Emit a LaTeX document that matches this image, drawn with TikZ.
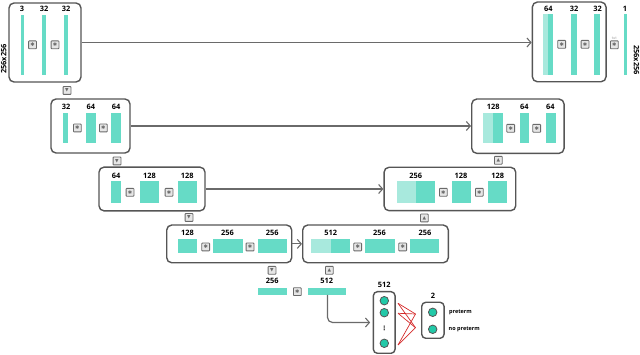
\documentclass[tikz,border=0pt]{standalone}
\usepackage{fontspec}
\setmainfont{Open Sans}
\newfontfamily\symf{DejaVu Sans}
\usetikzlibrary{arrows.meta,calc}
\definecolor{tealc}{HTML}{66DBC6}
\definecolor{ltealc}{HTML}{A8E9DD}
\definecolor{boxc}{HTML}{555555}
\definecolor{linec}{HTML}{6A6A6A}
\definecolor{iconc}{HTML}{6A6A6A}
\definecolor{iconf}{HTML}{E6E6E6}
\definecolor{neurc}{HTML}{22C9A8}
\definecolor{redc}{HTML}{D42A2A}
\tikzset{
  blockbox/.style={draw=boxc, line width=1.4pt, rounded corners=5pt, inner sep=0pt, fill=white},
  lab/.style={font=\fontsize{7.4}{8}\selectfont\bfseries, inner sep=0pt, text=black},
  smalllab/.style={font=\fontsize{5.5}{6}\selectfont\bfseries, inner sep=0pt, text=black, anchor=west},
  iconbox/.style={draw=iconc, fill=iconf, line width=0.8pt, minimum size=7.8pt, inner sep=0pt, rounded corners=0.6pt, text=iconc},
  conv/.style={iconbox, font=\symf\fontsize{5.2}{5.2}\selectfont},
  tri/.style={iconbox, font=\symf\fontsize{4.6}{4.6}\selectfont},
  conn/.style={draw=linec, line width=1.2pt, -{Straight Barb[length=4pt,width=9pt,line width=1.1pt]}},
  neuron/.style={circle, draw=boxc, fill=neurc, line width=0.8pt, minimum size=8.5pt, inner sep=0pt},
  redl/.style={draw=redc, line width=0.7pt},
}
\begin{document}
\begin{tikzpicture}[x=1pt,y=-1pt]
\useasboundingbox (0,0) rectangle (640,355);
% ---------- blocks ----------
\node[blockbox, minimum width=72pt, minimum height=79pt] (b1) at (45,42.5) {};
\node[blockbox, minimum width=79pt, minimum height=54pt] (b2) at (90.5,126) {};
\node[blockbox, minimum width=106pt, minimum height=43.7pt] (b3) at (152,189) {};
\node[blockbox, minimum width=125pt, minimum height=37.7pt] (b4) at (229.2,243.9) {};
\node[blockbox, minimum width=145.6pt, minimum height=37.7pt] (b5) at (375.5,243.9) {};
\node[blockbox, minimum width=131.7pt, minimum height=43.4pt] (r3) at (449.9,189) {};
\node[blockbox, minimum width=92.3pt, minimum height=54.3pt] (r2) at (517.9,126.2) {};
\node[blockbox, minimum width=73.7pt, minimum height=79.7pt] (r1) at (569.2,41.9) {};
\node[blockbox, rounded corners=4pt, minimum width=21.7pt, minimum height=61.6pt] (nb) at (384.2,322.5) {};
\node[blockbox, rounded corners=4pt, minimum width=22.3pt, minimum height=36pt] (ob) at (432.9,320.3) {};
% ---------- bars ----------
\fill[tealc] (21,15) rectangle (24,75);
\fill[tealc] (41.5,15) rectangle (46,75);
\fill[tealc] (63.5,15) rectangle (68,75);
\fill[tealc] (63.3,113) rectangle (68.3,143);
\fill[tealc] (85.7,113) rectangle (96,143);
\fill[tealc] (111,113) rectangle (121,143);
\fill[tealc] (111,181) rectangle (121,203.3);
\fill[tealc] (140,181) rectangle (159.3,203.3);
\fill[tealc] (177.7,181) rectangle (197,203.3);
\fill[tealc] (178.3,239.3) rectangle (197,253.3);
\fill[tealc] (212.7,239.3) rectangle (242.7,253.3);
\fill[tealc] (257.7,239.3) rectangle (287,253.3);
\fill[ltealc] (311,239.3) rectangle (331,253.3);
\fill[tealc] (331,239.3) rectangle (350,253.3);
\fill[tealc] (364.7,239.3) rectangle (394.7,253.3);
\fill[tealc] (410,239.3) rectangle (439.3,253.3);
\fill[ltealc] (396.7,181) rectangle (416,203.3);
\fill[tealc] (416,181) rectangle (435,203.3);
\fill[tealc] (451.7,181) rectangle (470.7,203.3);
\fill[tealc] (488.3,181) rectangle (507.3,203.3);
\fill[ltealc] (483.3,113.3) rectangle (493.3,143.3);
\fill[tealc] (493.3,113.3) rectangle (502.7,143.3);
\fill[tealc] (520,113.3) rectangle (529.3,143.3);
\fill[tealc] (545.7,113.3) rectangle (555.7,143.3);
\fill[ltealc] (542.7,14.3) rectangle (548.3,75);
\fill[tealc] (548.3,14.3) rectangle (553.3,75);
\fill[tealc] (570.7,14.3) rectangle (576.7,75);
\fill[tealc] (594.3,14.3) rectangle (600.3,75);
\fill[tealc] (623.8,14.3) rectangle (626.8,75);
\fill[tealc] (257.7,287.7) rectangle (287.3,295);
\fill[tealc] (307.7,287.7) rectangle (346,295);
\coordinate (bt2) at (327.5,295);
% ---------- labels ----------
\node[lab] (l11) at (22,9) {3};
\node[lab] (l12) at (44,9) {32};
\node[lab] (l13) at (66,9) {32};
\node[lab] (l21) at (66,106.7) {32};
\node[lab] (l22) at (90.8,106.7) {64};
\node[lab] (l23) at (116,106.7) {64};
\node[lab] (l31) at (116,175.7) {64};
\node[lab] (l32) at (149.5,175.7) {128};
\node[lab] (l33) at (187.3,175.7) {128};
\node[lab] (l41) at (187.5,233.3) {128};
\node[lab] (l42) at (227.5,233.3) {256};
\node[lab] (l43) at (272.3,233.3) {256};
\node[lab] (l51) at (330.7,233.3) {512};
\node[lab] (l52) at (379.5,233.3) {256};
\node[lab] (l53) at (425,233.3) {256};
\node[lab] (lr31) at (415.7,175.7) {256};
\node[lab] (lr32) at (461,175.7) {128};
\node[lab] (lr33) at (497.7,175.7) {128};
\node[lab] (lr21) at (493.3,106.7) {128};
\node[lab] (lr22) at (524.3,106.7) {64};
\node[lab] (lr23) at (550.3,106.7) {64};
\node[lab] (lr11) at (548.3,9.3) {64};
\node[lab] (lr12) at (574,9.3) {32};
\node[lab] (lr13) at (597.7,9.3) {32};
\node[lab] (lr14) at (625,9.3) {1};
\node[lab] (lb1) at (272.3,280.7) {256};
\node[lab] (lb2) at (326.7,280.7) {512};
\node[lab] (lnb) at (384.2,285) {512};
\node[lab] (lob) at (432.9,296) {2};
\node[lab, rotate=90] (vl) at (3.8,59) {256x256};
\node[lab, rotate=-90] (vr) at (636.5,60) {256x256};
% ---------- conv icons ----------
\node[conv] (c11) at (32.5,44.8) {✱};
\node[conv] (c12) at (55,44.8) {✱};
\node[conv] (c21) at (77.3,128) {✱};
\node[conv] (c22) at (103.3,128) {✱};
\node[conv] (c31) at (130,192.3) {✱};
\node[conv] (c32) at (169,192.3) {✱};
\node[conv] (c41) at (205.7,247) {✱};
\node[conv] (c42) at (250,247) {✱};
\node[conv] (c51) at (357.7,247) {✱};
\node[conv] (c52) at (402.7,247) {✱};
\node[conv] (cr31) at (443.3,192.3) {✱};
\node[conv] (cr32) at (479.3,192.3) {✱};
\node[conv] (cr21) at (510.7,128.3) {✱};
\node[conv] (cr22) at (536.7,128.3) {✱};
\node[conv] (cr11) at (561.7,44.3) {✱};
\node[conv] (cr12) at (585,44.3) {✱};
\node[conv] (cr13) at (614.3,44.8) {✱};
\node[inner sep=0pt, font=\fontsize{3.2}{3.2}\selectfont, text=iconc] (l1x1) at (614.3,38.2) {1x1};
\node[conv] (cb) at (297.3,291.7) {✱};
% ---------- pooling / upsampling icons ----------
\node[tri] (d1) at (67,90.5) {▼};
\node[tri] (d2) at (117,161) {▼};
\node[tri] (d3) at (189,217.5) {▼};
\node[tri] (d4) at (272,270.3) {▼};
\node[tri] (u4) at (329.3,270.3) {▲};
\node[tri] (u3) at (424.3,218) {▲};
\node[tri] (u2) at (498.3,160.3) {▲};
% ---------- skip connections ----------
\draw[conn] (b1.east) -- (b1.east -| r1.west);
\draw[conn] (b2.east) -- (b2.east -| r2.west);
\draw[conn] (b3.east) -- (b3.east -| r3.west);
\draw[conn] (b4.east) -- (b4.east -| b5.west);
\draw[conn, rounded corners=5pt, shorten >=2.5pt] (bt2) |- (nb.west);
% ---------- neurons ----------
\node[neuron] (n1) at (384.3,300.7) {};
\node[neuron] (n2) at (384.3,312.7) {};
\node[inner sep=0pt, font=\symf\fontsize{6}{6}\selectfont\bfseries] (ndots) at (384.3,328.3) {⋮};
\node[neuron] (n3) at (384.3,343.3) {};
\node[neuron] (o1) at (432.7,312.3) {};
\node[neuron] (o2) at (432.7,329.3) {};
\node[smalllab] (lp) at (449,312.3) {preterm};
\node[smalllab] (lnp) at (448.5,329.3) {no preterm};
\coordinate (s1) at (398,303.3);
\coordinate (s2) at (398,313.3);
\coordinate (s3) at (398,345);
\coordinate (t1) at (415.5,314);
\coordinate (t2) at (415.5,327.7);
\foreach \s in {s1,s2,s3}{
  \foreach \t in {t1,t2}{
    \draw[redl] (\s) -- (\t);
  }
}
\end{tikzpicture}
\end{document}
